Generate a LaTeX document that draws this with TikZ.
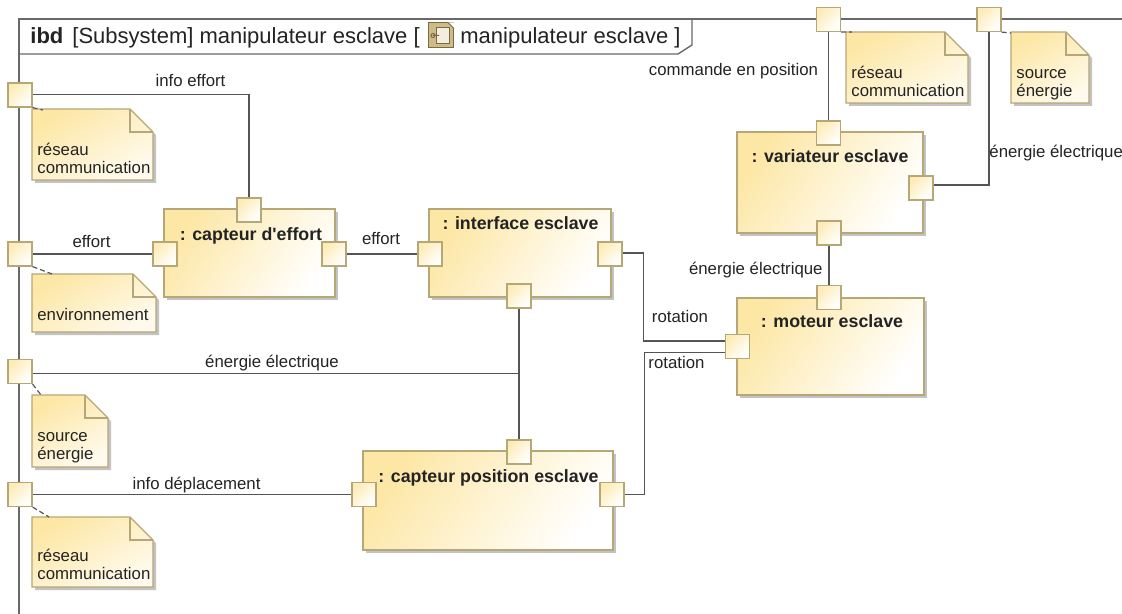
\documentclass[tikz,border=0pt]{standalone}
\usepackage{fontspec}
\newfontfamily\uml{Liberation Sans}
\usetikzlibrary{calc,shadows}
\definecolor{blkY}{RGB}{253,231,165}
\definecolor{blkB}{RGB}{182,167,118}
\definecolor{lineC}{RGB}{85,85,85}
\definecolor{frameC}{RGB}{105,105,105}
\definecolor{shadowC}{RGB}{195,195,195}
\definecolor{iconF}{RGB}{205,188,135}
\definecolor{iconB}{RGB}{125,105,65}
\definecolor{txtC}{RGB}{35,35,35}
\tikzset{
  block/.style={rectangle, draw=blkB, line width=0.6pt, top color=blkY, bottom color=white, shading angle=55,
    general shadow={fill=shadowC, shadow xshift=1.5pt, shadow yshift=-1.5pt}, inner sep=0pt},
  port/.style={rectangle, draw=blkB, line width=0.6pt, top color=blkY!80, bottom color=white, shading angle=45,
    minimum size=12pt, inner sep=0pt},
  title/.style={font=\uml\fontsize{8.9}{10.7}\selectfont\bfseries, text=txtC, inner sep=0pt, anchor=base},
  lbl/.style={font=\uml\fontsize{8.4}{10}\selectfont, text=txtC, inner sep=0pt, anchor=base},
  notetext/.style={font=\uml\fontsize{8.4}{9}\selectfont, text=txtC, inner sep=0pt, align=left, anchor=north west},
  hdr/.style={font=\uml\fontsize{11}{13}\selectfont, text=txtC, inner sep=0pt, anchor=base west},
  conn/.style={draw=lineC, line width=0.65pt},
  frameline/.style={draw=frameC, line width=0.7pt},
  anchorline/.style={draw=lineC, line width=0.6pt, dash pattern=on 2.5pt off 1.5pt},
  notebody/.style={draw=blkB, line width=0.6pt},
}
\newcommand{\umlnote}[5]{%
  \coordinate (#1) at (#2,#3);
  \fill[shadowC] ($(#1)+(3,3)$) -- ++(#4-23,0) -- ++(23,23) -- ++(0,#5-23) -- ++(-#4,0) -- cycle;
  \shade[top color=blkY, bottom color=blkY!20!white, shading angle=30] (#1) -- ++(#4-23,0) -- ++(23,23) -- ++(0,#5-23) -- ++(-#4,0) -- cycle;
  \draw[notebody] (#1) -- ++(#4-23,0) -- ++(23,23) -- ++(0,#5-23) -- ++(-#4,0) -- cycle;
  \draw[notebody] ($(#1)+(#4-23,0)$) -- ++(0,23) -- ++(23,0);
}
\begin{document}
\begin{tikzpicture}[x=0.5pt,y=-0.5pt]
\useasboundingbox (0,0) rectangle (1122,614);
% frame
\draw[frameline] (19,614) -- (19,19) -- (1122,19);
\draw[frameline] (19,54) -- (678,54) -- (692,45) -- (692,19);
\node[hdr, font=\uml\fontsize{11}{13}\selectfont\bfseries] (hdA) at (30,44) {ibd};
\node[hdr] (hdB) at (72,44) {[Subsystem] manipulateur esclave [};
\node[draw=iconB, fill=iconF, line width=0.5pt, minimum size=12.5pt, inner sep=0pt] (icon) at (441,35.5) {};
\draw[iconB, fill=white!75!iconF, line width=0.5pt] ($(icon.center)+(-5,-8)$) rectangle ($(icon.center)+(8,8)$);
\draw[iconB, line width=0.5pt] ($(icon.center)+(-8,0)$) circle (1pt) -- ++(6,0);
\fill[white] ($(icon.north east)+(-6,0)$) -- (icon.north east) -- ($(icon.north east)+(0,6)$) -- cycle;
\draw[iconB, line width=0.5pt] ($(icon.north east)+(-6,0)$) -- ($(icon.north east)+(0,6)$);
\node[hdr] (hdC) at (460,44) {manipulateur esclave ]};
% notes
\umlnote{nA}{32}{109}{121}{71}
\umlnote{nB}{32}{274}{124}{58}
\umlnote{nC}{32}{395}{76}{72}
\umlnote{nD}{32}{517}{121}{70}
\umlnote{nE}{846}{32}{122}{71}
\umlnote{nF}{1011}{32}{78}{71}
\node[notetext] (nAt) at ($(nA)+(5,33.5)$) {\strut réseau\\communication};
\node[notetext] (nBt) at ($(nB)+(5,33.5)$) {\strut environnement};
\node[notetext] (nCt) at ($(nC)+(5,33.5)$) {\strut source\\énergie};
\node[notetext] (nDt) at ($(nD)+(5,31.5)$) {\strut réseau\\communication};
\node[notetext] (nEt) at ($(nE)+(5,33.5)$) {\strut réseau\\communication};
\node[notetext] (nFt) at ($(nF)+(5,33.5)$) {\strut source\\énergie};
% blocks
\node[block, minimum width=85.5pt, minimum height=44pt] (ce) at (249.5,253) {};
\node[block, minimum width=91pt, minimum height=44pt] (ie) at (520,253) {};
\node[block, minimum width=93pt, minimum height=50.5pt] (va) at (830,182.5) {};
\node[block, minimum width=93.5pt, minimum height=48.5pt] (mo) at (830.5,346.5) {};
\node[block, minimum width=125pt, minimum height=49.5pt] (cp) at (488,500.5) {};
\node[title] (ceT) at ($(ce.north)+(1.5,32)$) {: capteur d'effort};
\node[title] (ieT) at ($(ie.north)+(0.5,21)$) {: interface esclave};
\node[title] (vaT0) at ($(va.north)+(0,31)$) {: variateur esclave};
\node[title] (moT0) at ($(mo.north)+(1.5,30)$) {: moteur esclave};
\node[title] (cpT0) at ($(cp.north)+(0.5,32)$) {: capteur position esclave};
% ports
\node[port] (ceTop) at (249,210) {};
\node[port] (ceL) at (165,254) {};
\node[port] (ceR) at (334,254) {};
\node[port] (ieL) at (430,254) {};
\node[port] (ieR) at (610,254) {};
\node[port] (ieB) at (519,296) {};
\node[port] (vaT) at (828.5,133) {};
\node[port] (vaR) at (921,188) {};
\node[port] (vaB) at (829,233) {};
\node[port] (moT) at (829,297.5) {};
\node[port] (moL) at (737.5,346.5) {};
\node[port] (cpT) at (519,452) {};
\node[port] (cpL) at (364,494.5) {};
\node[port] (cpR) at (612,494.5) {};
\node[port] (fA) at (20,95) {};
\node[port] (fB) at (20,254) {};
\node[port] (fC) at (20,371.5) {};
\node[port] (fD) at (20,494.5) {};
\node[port] (fE) at (828.5,19.5) {};
\node[port] (fF) at (989,19.5) {};
% anchor lines
\draw[anchorline] (fA.south east) -- ($(nA)+(11,1)$);
\draw[anchorline] (fB.south east) -- ($(nB)+(20,0)$);
\draw[anchorline] (fC.south east) -- ($(nC)+(9,0)$);
\draw[anchorline] (fD.south east) -- ($(nD)+(17,0)$);
\draw[anchorline] (fE.south east) -- ($(nE)+(6,0)$);
\draw[anchorline] (fF.south east) -- ($(nF)+(0,1)$);
% connectors
\coordinate (fCe) at ([yshift=-1pt]fC.east);
\draw[conn] ([yshift=0.25pt]fA.east) -| (ceTop.north);
\draw[conn] (fB.east) -- (ceL.west);
\draw[conn] (ceR.east) -- (ieL.west);
\draw[conn] ([yshift=0.5pt]ieR.east) -- ++(21,0) |- ([yshift=2.75pt]moL.west);
\draw[conn] (cpR.east) -- ++(20,0) |- ([yshift=-3pt]moL.west);
\draw[conn] (ieB.south) -- (cpT.north);
\draw[conn] (fCe) -- (fCe -| ieB.south);
\draw[conn] (fD.east) -- (cpL.west);
\draw[conn] (vaB.south) -- (moT.north);
\draw[conn] (fE.south) -- (vaT.north);
\draw[conn] (fF.south) |- ([yshift=1.5pt]vaR.east);
% labels
\node[lbl] (lA) at (190.5,87) {info effort};
\node[lbl] (lB) at (91.5,248) {effort};
\node[lbl] (lC) at (381,245) {effort};
\node[lbl] (lD) at (680,322) {rotation};
\node[lbl] (lE) at (676.5,368) {rotation};
\node[lbl] (lF) at (272,367) {énergie électrique};
\node[lbl] (lG) at (196.5,489) {info déplacement};
\node[lbl, anchor=base east] (lH) at (823,275) {énergie électrique};
\node[lbl] (lI) at (733.5,76) {commande en position};
\node[lbl, anchor=base west] (lJ) at (989,158) {énergie électrique};
\end{tikzpicture}
\end{document}
